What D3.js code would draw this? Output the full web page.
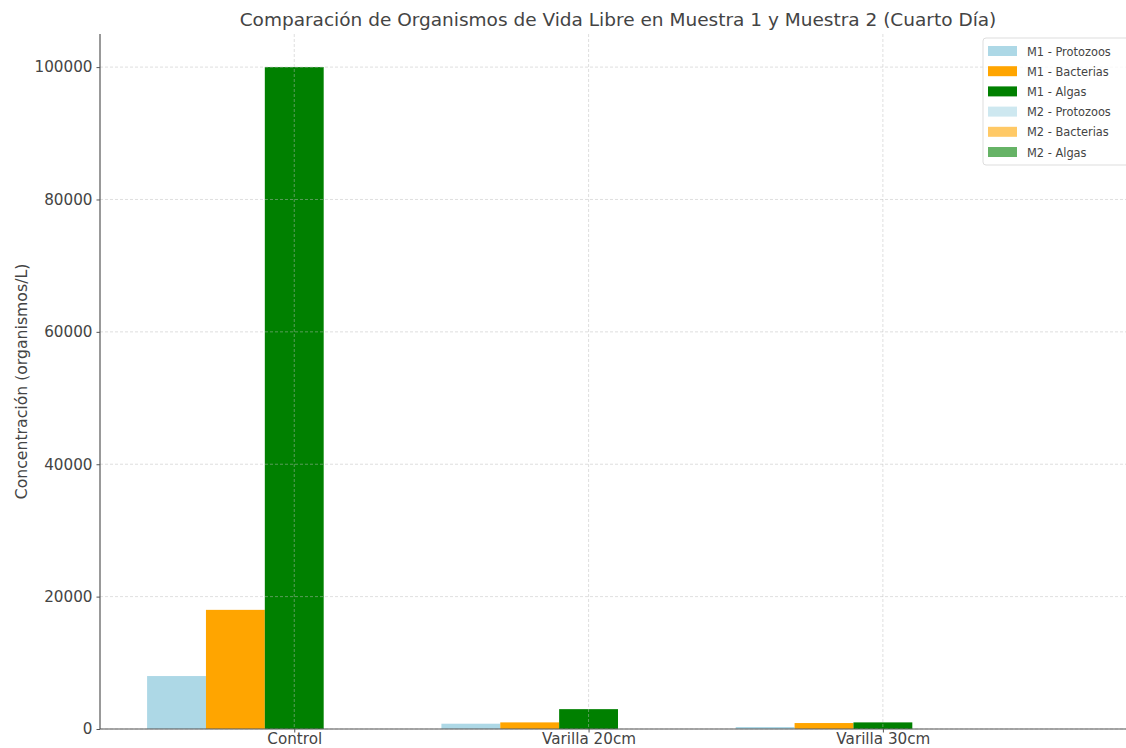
<!DOCTYPE html>
<html><head><meta charset="utf-8">
<script src="https://cdn.jsdelivr.net/npm/d3@7"></script>
<style>body{margin:0;background:#fff;} svg{display:block;font-family:"DejaVu Sans",sans-serif;}</style>
</head><body>
<svg id="chart" width="1126" height="748"></svg>
<script>
const categories = ["Control", "Varilla 20cm", "Varilla 30cm"];
const seriesNames = ["M1 - Protozoos", "M1 - Bacterias", "M1 - Algas", "M2 - Protozoos", "M2 - Bacterias", "M2 - Algas"];
const m1Protozoos = [8000, 800, 300];
const m1Bacterias = [18000, 1000, 900];
const m1Algas = [100000, 3000, 1000];
const m2Protozoos = [0, 0, 0];
const m2Bacterias = [0, 0, 0];
const m2Algas = [0, 0, 0];
const seriesOffsets = [-2, -1, 0, 1, 2, 3];
const seriesColors = ["#add8e6", "#ffa500", "#008000", "rgba(173,216,230,0.6)", "rgba(255,165,0,0.6)", "rgba(0,128,0,0.6)"];
const yTicks = [0, 20000, 40000, 60000, 80000, 100000];
const chartTitle = "Comparación de Organismos de Vida Libre en Muestra 1 y Muestra 2 (Cuarto Día)";
const yLabel = "Concentración (organismos/L)";

(function () {
const seriesValues = [m1Protozoos, m1Bacterias, m1Algas, m2Protozoos, m2Bacterias, m2Algas];
const barW = 0.2;

const svg = d3.select("#chart");
const pL = 100, pR = 1136, pT = 34, pB = 729;

const x = d3.scaleLinear().domain([-0.66, 2.86]).range([pL, pR]);
const y = d3.scaleLinear().domain([0, 105000]).range([pB, pT]);

const txt = "#444";

// bars
seriesValues.forEach((vals, s) => {
  svg.append("g").selectAll("rect").data(vals).join("rect")
    .attr("x", (d, i) => x(i + seriesOffsets[s] * barW - barW / 2))
    .attr("width", x(barW) - x(0))
    .attr("y", d => y(d))
    .attr("height", d => y(0) - y(d))
    .attr("fill", seriesColors[s]);
});

// grid (drawn above bars)
const g = svg.append("g");
g.selectAll("line.hg").data(yTicks).join("line")
  .attr("x1", pL).attr("x2", pR)
  .attr("y1", d => y(d)).attr("y2", d => y(d))
  .attr("stroke", "#bbb").attr("stroke-opacity", 0.6).attr("stroke-width", 0.8).attr("stroke-dasharray", "3,2");
g.selectAll("line.vg").data(categories).join("line")
  .attr("x1", (d, i) => x(i)).attr("x2", (d, i) => x(i))
  .attr("y1", pT).attr("y2", pB)
  .attr("stroke", "#bbb").attr("stroke-opacity", 0.6).attr("stroke-width", 0.8).attr("stroke-dasharray", "3,2");

// axes
const yAxis = d3.axisLeft(y).tickValues(yTicks).tickFormat(d3.format("d")).tickSize(3.5).tickPadding(4);
const ya = svg.append("g").attr("transform", `translate(${pL},0)`).call(yAxis);
ya.select(".domain").attr("d", `M0,${pT}V${pB}`).attr("stroke", "#555").attr("stroke-width", 1.2);
ya.selectAll(".tick line").attr("stroke", "#555");
ya.selectAll(".tick text").attr("font-size", 15.2).attr("fill", txt).attr("font-family", "DejaVu Sans");

const xAxis = d3.axisBottom(x).tickValues(categories.map((d, i) => i)).tickFormat(i => categories[i]).tickSize(3.5).tickPadding(1);
const xa = svg.append("g").attr("transform", `translate(0,${pB})`).call(xAxis);
xa.select(".domain").attr("d", `M${pL},0H${pR}`).attr("stroke", "#555").attr("stroke-width", 1.2);
xa.selectAll(".tick line").attr("stroke", "#555");
xa.selectAll(".tick text").attr("font-size", 15.2).attr("fill", txt).attr("font-family", "DejaVu Sans");

// title
svg.append("text").attr("x", (pL + pR) / 2).attr("y", 26).attr("text-anchor", "middle")
  .attr("font-size", 18.5).attr("fill", txt).text(chartTitle);

// y label
svg.append("text").attr("transform", `translate(27,${(pT + pB) / 2}) rotate(-90)`)
  .attr("text-anchor", "middle").attr("font-size", 15.7).attr("fill", txt).text(yLabel);

// legend
const lg = svg.append("g").attr("transform", "translate(983,38)");
lg.append("rect").attr("x", 0).attr("y", 0).attr("width", 150).attr("height", 127).attr("rx", 3)
  .attr("fill", "rgba(255,255,255,0.8)").attr("stroke", "#ddd");
seriesNames.forEach((n, i) => {
  const row = lg.append("g").attr("transform", `translate(0,${13 + i * 20.2})`);
  row.append("rect").attr("x", 5).attr("y", -5).attr("width", 29).attr("height", 10).attr("fill", seriesColors[i]);
  row.append("text").attr("x", 44).attr("y", 4.5).attr("font-size", 11.4).attr("fill", txt).text(n);
});
})();
</script>
</body></html>
